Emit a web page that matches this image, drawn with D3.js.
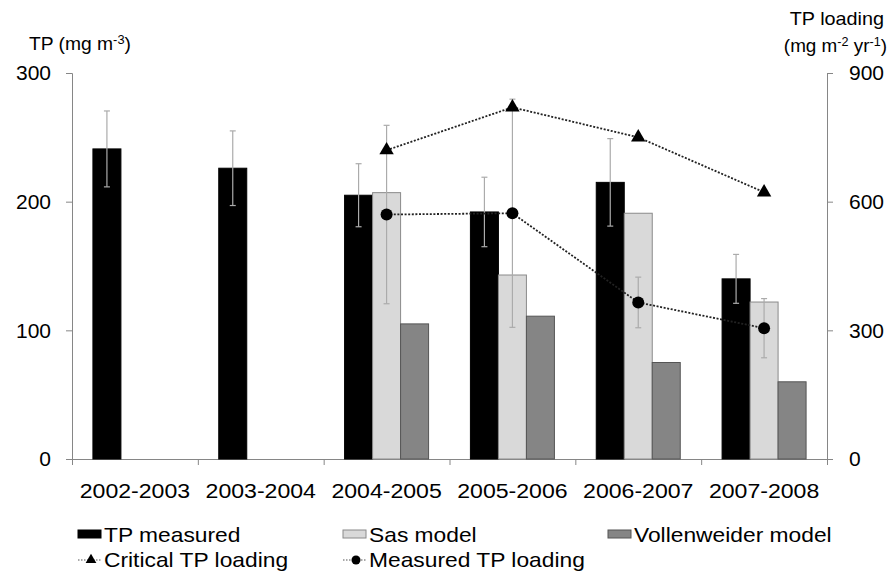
<!DOCTYPE html>
<html lang="en">
<head>
  <meta charset="UTF-8">
  <title>TP concentration and loading</title>
  <script src="https://d3js.org/d3.v7.min.js"></script>
  <style>
    body { margin: 0; background: #fff; }
    svg { font-family: Arial, "Liberation Sans", sans-serif; }
    .axis path, .axis line { stroke: #868686; }
    .axis text { font-size: 21px; fill: #000; }
    .title { font-size: 18px; fill: #000; }
    .legend text { font-size: 20px; fill: #000; }
  </style>
</head>
<body>
  <div id="chart"></div>
  <script>
    // data
    const years = ["2002-2003", "2003-2004", "2004-2005", "2005-2006", "2006-2007", "2007-2008"];
    const tpMeasured = [241, 226, 205, 192, 215, 140];
    const tpMeasuredErr = [29.5, 29, 24.5, 27, 34, 19];
    const sasModel = [null, null, 207, 143, 191, 122];
    const vollModel = [null, null, 105, 111, 75, 60];
    const criticalLoad = [null, null, 720, 820, 750, 622];
    const measuredLoad = [null, null, 570, 573, 365, 305];
    const measuredLoadErr = [null, null, 208, 266, 59, 69];
    const leftTicks = [0, 100, 200, 300];
    const rightTicks = [0, 300, 600, 900];

    const W = 892, H = 579;
    const plot = { left: 72, right: 827, top: 73, bottom: 459 };
    const stretch = 1.1; // the source text is a little wider than Arial

    const svg = d3.select("#chart").append("svg")
      .attr("width", W).attr("height", H);

    const x = d3.scaleBand().domain(years).range([plot.left, plot.right]).padding(0);
    const xEdge = d3.scaleLinear().domain([0, years.length]).range([plot.left, plot.right]);
    const series = ["tp", "sas", "voll"];
    const xs = d3.scaleBand().domain(series).range([-42, 42]).padding(0);
    const y = d3.scaleLinear().domain([0, 300]).range([plot.bottom, plot.top]);
    const yR = d3.scaleLinear().domain([0, 900]).range([plot.bottom, plot.top]);
    const cx = d => x(d) + x.bandwidth() / 2;

    // axes
    svg.append("g").attr("class", "axis")
      .attr("transform", `translate(${plot.left},0)`)
      .call(d3.axisLeft(y).tickValues(leftTicks).tickSize(6).tickPadding(15));
    svg.append("g").attr("class", "axis")
      .attr("transform", `translate(${plot.right},0)`)
      .call(d3.axisRight(yR).tickValues(rightTicks).tickSize(6).tickPadding(16));
    svg.append("g").attr("class", "axis")
      .attr("transform", `translate(0,${plot.bottom})`)
      .call(d3.axisBottom(xEdge).tickValues(d3.range(years.length + 1)).tickSize(6).tickFormat(""));
    svg.append("g").attr("class", "axis")
      .attr("transform", `translate(0,${plot.bottom})`)
      .call(d3.axisBottom(x).tickSize(0).tickPadding(24))
      .call(g => g.select(".domain").remove())
      .call(g => g.selectAll("text").attr("transform", `scale(${stretch},1)`));

    // axis titles
    const tl = svg.append("text").attr("class", "title")
      .attr("transform", `translate(29,50) scale(1.07,1)`);
    tl.append("tspan").text("TP (mg m");
    tl.append("tspan").attr("dy", -6).attr("font-size", 12).text("-3");
    tl.append("tspan").attr("dy", 6).text(")");

    svg.append("text").attr("class", "title")
      .attr("transform", `translate(884,25) scale(1.1,1)`)
      .attr("text-anchor", "end").text("TP loading");
    const tr = svg.append("text").attr("class", "title")
      .attr("transform", `translate(887,52) scale(1.05,1)`)
      .attr("text-anchor", "end");
    tr.append("tspan").text("(mg m");
    tr.append("tspan").attr("dy", -6).attr("font-size", 12).text("-2");
    tr.append("tspan").attr("dy", 6).text(" yr");
    tr.append("tspan").attr("dy", -6).attr("font-size", 12).text("-1");
    tr.append("tspan").attr("dy", 6).text(")");

    // bars
    const barStyle = {
      tp: { fill: "#000", stroke: "#000", vals: tpMeasured },
      sas: { fill: "#d9d9d9", stroke: "#8a8a8a", vals: sasModel },
      voll: { fill: "#858585", stroke: "#555", vals: vollModel }
    };
    series.forEach(s => {
      const st = barStyle[s];
      svg.append("g").selectAll("rect")
        .data(years.map((yr, i) => ({ yr, v: st.vals[i] })).filter(d => d.v != null))
        .enter().append("rect")
        .attr("x", d => cx(d.yr) + xs(s))
        .attr("y", d => y(d.v))
        .attr("width", xs.bandwidth())
        .attr("height", d => y(0) - y(d.v))
        .attr("fill", st.fill)
        .attr("stroke", st.stroke)
        .attr("stroke-width", 1);
    });

    // error bars
    function errBars(pts, scale) {
      const g = svg.append("g").attr("stroke", "#ababab").attr("stroke-width", 1.2);
      pts.forEach(p => {
        const x0 = p.x, y1 = scale(p.v + p.e), y2 = scale(p.v - p.e);
        g.append("line").attr("x1", x0).attr("x2", x0).attr("y1", y1).attr("y2", y2);
        g.append("line").attr("x1", x0 - 3).attr("x2", x0 + 3).attr("y1", y1).attr("y2", y1);
        g.append("line").attr("x1", x0 - 3).attr("x2", x0 + 3).attr("y1", y2).attr("y2", y2);
      });
    }
    errBars(years.map((yr, i) => ({ x: cx(yr) + xs("tp") + xs.bandwidth() / 2, v: tpMeasured[i], e: tpMeasuredErr[i] })), y);

    // lines on right axis
    const critPts = years.map((yr, i) => ({ yr, v: criticalLoad[i] })).filter(d => d.v != null);
    const measPts = years.map((yr, i) => ({ yr, v: measuredLoad[i], e: measuredLoadErr[i] })).filter(d => d.v != null);
    const line = d3.line().x(d => cx(d.yr)).y(d => yR(d.v));

    errBars(measPts.map(d => ({ x: cx(d.yr), v: d.v, e: d.e })), yR);

    [critPts, measPts].forEach(pts => {
      svg.append("path").datum(pts).attr("d", line)
        .attr("fill", "none").attr("stroke", "#222")
        .attr("stroke-width", 1.8).attr("stroke-dasharray", "2,1.6");
    });
    svg.append("g").selectAll("path").data(critPts).enter().append("path")
      .attr("d", d3.symbol(d3.symbolTriangle, 90))
      .attr("transform", d => `translate(${cx(d.yr)},${yR(d.v)})`)
      .attr("fill", "#000");
    svg.append("g").selectAll("circle").data(measPts).enter().append("circle")
      .attr("cx", d => cx(d.yr)).attr("cy", d => yR(d.v)).attr("r", 6)
      .attr("fill", "#000");

    // legend
    const legend = svg.append("g").attr("class", "legend");
    const legRow1 = [
      { label: "TP measured", x: 78, s: barStyle.tp },
      { label: "Sas model", x: 343, s: barStyle.sas },
      { label: "Vollenweider model", x: 608, s: barStyle.voll }
    ];
    legRow1.forEach(d => {
      legend.append("rect").attr("x", d.x).attr("y", 530).attr("width", 23).attr("height", 8)
        .attr("fill", d.s.fill).attr("stroke", d.s.stroke);
      legend.append("text").attr("transform", `translate(${d.x + 26},542) scale(1.14,1)`).text(d.label);
    });
    const legRow2 = [
      { label: "Critical TP loading", x: 78, sym: "tri" },
      { label: "Measured TP loading", x: 343, sym: "dot" }
    ];
    legRow2.forEach(d => {
      legend.append("line").attr("x1", d.x).attr("x2", d.x + 24).attr("y1", 560).attr("y2", 560)
        .attr("stroke", "#555").attr("stroke-width", 1.2).attr("stroke-dasharray", "1.5,1.5");
      if (d.sym === "tri") {
        legend.append("path").attr("d", d3.symbol(d3.symbolTriangle, 50))
          .attr("transform", `translate(${d.x + 13},560)`).attr("fill", "#000");
      } else {
        legend.append("circle").attr("cx", d.x + 13).attr("cy", 560).attr("r", 4.5).attr("fill", "#000");
      }
      legend.append("text").attr("transform", `translate(${d.x + 26},567) scale(1.14,1)`).text(d.label);
    });
  </script>
</body>
</html>
